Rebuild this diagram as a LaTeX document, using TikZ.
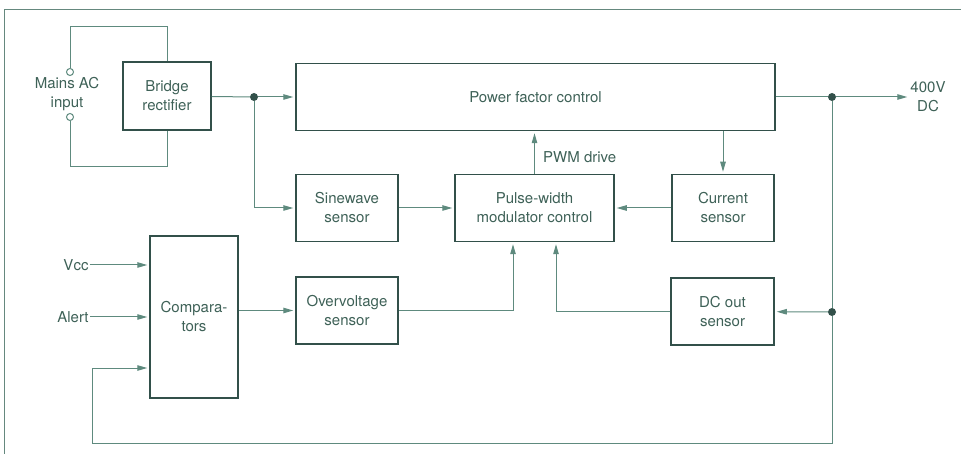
\documentclass[tikz,border=0pt]{standalone}
\usepackage{fontspec}
\setmainfont{TeX Gyre Heros}
\usetikzlibrary{arrows.meta}
\definecolor{boxcol}{HTML}{32504A}
\definecolor{wirecol}{HTML}{5E8A7E}
\definecolor{txtcol}{HTML}{3E6157}
\begin{document}
\begin{tikzpicture}[x=1pt,y=-1pt,
  font=\fontsize{15}{19}\selectfont,
  block/.style={draw=boxcol,line width=1.5pt,text=txtcol,align=center,inner sep=0pt},
  lbl/.style={text=txtcol,align=center,inner sep=1pt},
  wire/.style={draw=wirecol,line width=1pt},
  arr/.style={wire,-{Triangle[length=10pt,width=5.5pt]},shorten >=2pt},
  dot/.style={circle,fill=boxcol,inner sep=0pt,minimum size=8pt},
  term/.style={circle,draw=wirecol,line width=1pt,fill=white,inner sep=0pt,minimum size=7pt}]

\useasboundingbox (0,0) rectangle (961,454);

% Frame
\draw[wirecol!80!gray,line width=1pt] (4,454) -- (4,10) -- (961,10);

% Mains input
\node[term] (t1) at (70,72) {};
\node[term] (t2) at (70,117) {};
\node[lbl] (mains) at (67,94) {Mains AC\\input};

% Blocks
\node[block,minimum width=88pt,minimum height=68pt] (bridge) at (167,96)
{Bridge\\rectifier};
\node[block,minimum width=479pt,minimum height=67pt] (pfc) at (535.5,97)
{Power factor control};
\node[block,minimum width=102pt,minimum height=67pt] (sine) at (347,208)
{Sinewave\\sensor};
\node[block,minimum width=159pt,minimum height=67pt] (pwm) at (534.5,208)
{Pulse-width\\modulator control};
\node[block,minimum width=102pt,minimum height=67pt] (cur) at (723,208)
{Current\\sensor};
\node[block,minimum width=102pt,minimum height=67pt] (over) at (347,310.5)
{Overvoltage\\sensor};
\node[block,minimum width=103pt,minimum height=67pt] (dcout) at (722.5,311.5)
{DC out\\sensor};
\node[block,minimum width=88pt,minimum height=162pt] (comp) at (194,317)
{Compara-\\tors};

% Junctions and labels
\node[dot] (j1) at (254,97) {};
\node[dot] (j2) at (832,97) {};
\node[dot] (j3) at (832,312) {};
\node[lbl] (vout) at (928,97) {400V\\DC};
\node[lbl] (vcc) at (76,265) {Vcc};
\node[lbl] (alert) at (73,317) {Alert};
\node[lbl,anchor=west] (pwmlbl) at (542,157) {PWM drive};
\coordinate (wtop) at (167,27);
\coordinate (wbot) at (167,167);
\coordinate (fbl) at (92,443);

% Mains wiring
\draw[wire] (t1.north) |- (wtop) -- (bridge.north);
\draw[wire] (t2.south) |- (wbot) -- (bridge.south);

% Rectifier output
\draw[wire] (bridge) -- (j1);
\draw[arr] (j1) -- (pfc);
\draw[arr] (j1) |- (sine);

% DC output
\draw[wire] (pfc) -- (j2);
\draw[arr] (j2) -- (vout);
\draw[wire] (j2) -- (j3);
\draw[arr] (j3) -- (dcout);

% Feedback to comparators
\draw[arr] (j3) |- (fbl) |- ([yshift=-51pt]comp.west);
\draw[arr] (vcc) -- (vcc -| comp.west);
\draw[arr] (alert) -- (alert -| comp.west);
\draw[arr] (comp.east |- over.west) -- (over.west);

% Sensors into modulator
\draw[arr] (sine) -- (pwm);
\draw[arr] (cur) -- (pwm);
\draw[arr] (over.east) -| ([xshift=-21.5pt]pwm.south);
\draw[arr] (dcout.west) -| ([xshift=21.5pt]pwm.south);

% Modulator and current
\draw[arr] (pwm) -- (pwm |- pfc.south);
\draw[arr] (cur |- pfc.south) -- (cur);

\end{tikzpicture}
\end{document}
